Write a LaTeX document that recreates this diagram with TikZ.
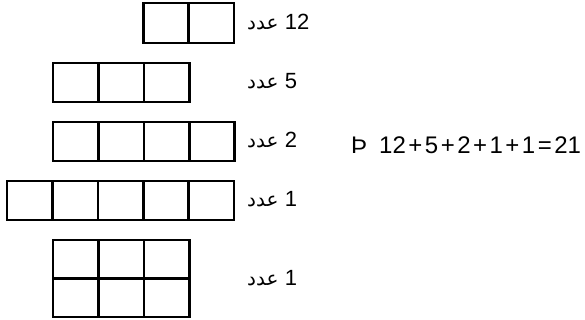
\documentclass[tikz,border=0pt]{standalone}
\usepackage{fontspec}
\usepackage{tikz}
\setmainfont{Liberation Sans}
\newfontfamily\arabicfont[Script=Arabic]{DejaVu Sans}
\TeXXeTstate=1
\tikzset{
	cell/.style={draw, line width=2.6pt},
	count/.style={anchor=west, inner sep=0pt, font=\fontsize{20}{24}\selectfont},
	sum/.style={anchor=west, inner sep=0pt, font=\fontsize{24}{28}\selectfont}
}
\newcommand{\cellrow}[4]{% x0, y0, number of cells, height
	\foreach \i in {1,...,#3}
		\draw[cell] ({#1+(\i-1)*45.4}, #2) rectangle ++(45.4, #4);
}
\newcommand{\countlabel}[1]{\arabicfont\beginR\beginL{\rmfamily\fontsize{22}{26}\selectfont #1}\endL{} عدد\endR}
\newcommand{\op}[1]{\hspace{2.5pt}#1\hspace{2.5pt}}
\begin{document}
\begin{tikzpicture}[x=1pt, y=-1pt]
	\useasboundingbox (0, 0) rectangle (585, 320);
	% Rows of cells:
	\cellrow{143.2}{3}{2}{40}
	\cellrow{53}{63}{3}{39}
	\cellrow{53}{122}{4}{39}
	\cellrow{7}{181}{5}{39}
	\cellrow{53}{240}{3}{38.5}
	\cellrow{53}{278.5}{3}{38.5}
	% Counts:
	\node[count](C1) at (247, 22){\countlabel{12}};
	\node[count](C2) at (247, 81){\countlabel{5}};
	\node[count](C3) at (247, 140){\countlabel{2}};
	\node[count](C4) at (247, 199){\countlabel{1}};
	\node[count](C5) at (247, 278){\countlabel{1}};
	% Total:
	\node[sum](S) at (351, 145){Þ\hspace{12pt}12\op{+}5\op{+}2\op{+}1\op{+}1\op{=}21};
\end{tikzpicture}
\end{document}
